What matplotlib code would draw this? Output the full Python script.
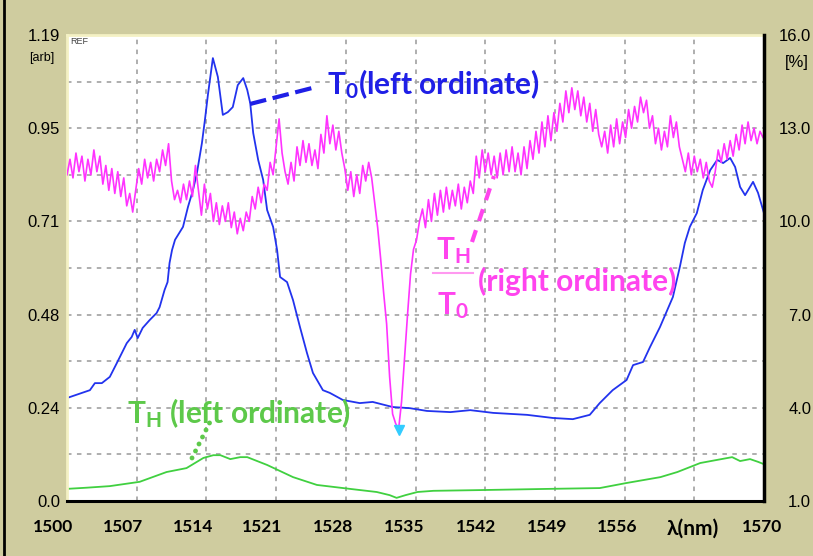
import numpy as np
import matplotlib
matplotlib.use('Agg')
import matplotlib.pyplot as plt
from matplotlib.lines import Line2D
from matplotlib.transforms import ScaledTranslation

plt.rcParams['mathtext.fontset'] = 'custom'
plt.rcParams['mathtext.rm'] = 'Lato'
plt.rcParams['mathtext.bf'] = 'Lato:bold'

# T0 spectrum (left ordinate, arb)
t0_nm = [1500.0, 1502.3, 1502.8, 1503.5, 1504.3, 1505.0, 1506.0, 1506.5, 1506.8, 1507.1,
         1507.6, 1508.3, 1509.0, 1509.3, 1509.8, 1510.1, 1510.3, 1510.55, 1510.85, 1511.65,
         1512.15, 1512.65, 1513.05, 1513.55, 1513.85, 1514.15, 1514.65, 1515.15, 1515.65, 1516.15,
         1516.65, 1517.15, 1517.7, 1518.1, 1518.4, 1518.7, 1519.2, 1519.7, 1520.1, 1520.7,
         1521.1, 1521.4, 1522.1, 1522.7, 1523.4, 1524.1, 1524.7, 1525.7, 1526.4, 1527.7,
         1529.4, 1530.7, 1532.7, 1534.45, 1536.15, 1538.5, 1540.5, 1542.8, 1546.2, 1548.8,
         1550.8, 1552.5, 1553.5, 1554.8, 1556.2, 1556.85, 1557.85, 1558.55, 1559.55, 1560.85,
         1561.55, 1562.05, 1562.55, 1563.25, 1563.85, 1564.6, 1565.3, 1565.9, 1566.6, 1567.1,
         1567.6, 1568.1, 1568.9, 1569.4, 1570.0]
t0_val = [0.263, 0.283, 0.301, 0.301, 0.317, 0.352, 0.403, 0.419, 0.437, 0.416,
          0.442, 0.462, 0.480, 0.495, 0.539, 0.559, 0.608, 0.641, 0.667, 0.700,
          0.751, 0.794, 0.838, 0.914, 0.973, 1.037, 1.131, 1.083, 0.986, 0.993,
          1.006, 1.062, 1.080, 1.050, 1.016, 0.940, 0.871, 0.820, 0.743, 0.700,
          0.641, 0.572, 0.559, 0.513, 0.444, 0.378, 0.327, 0.283, 0.276, 0.258,
          0.250, 0.253, 0.240, 0.237, 0.230, 0.227, 0.232, 0.225, 0.220, 0.212,
          0.209, 0.220, 0.250, 0.283, 0.309, 0.347, 0.355, 0.393, 0.444, 0.521,
          0.598, 0.659, 0.700, 0.735, 0.794, 0.845, 0.871, 0.863, 0.876, 0.853,
          0.802, 0.781, 0.815, 0.787, 0.735]

# TH spectrum (left ordinate, arb)
th_nm = [1500.0, 1502.0, 1504.3, 1507.3, 1510.0, 1512.0, 1513.7, 1514.7, 1515.4, 1516.4,
         1517.4, 1518.1, 1519.1, 1520.1, 1522.7, 1525.1, 1528.4, 1531.1, 1532.4, 1533.1,
         1534.0, 1535.2, 1536.8, 1541.8, 1548.5, 1553.5, 1556.2, 1559.6, 1561.3, 1563.6,
         1565.3, 1566.8, 1567.6, 1568.6, 1569.4, 1570.0]
th_val = [0.031, 0.034, 0.038, 0.049, 0.074, 0.084, 0.110, 0.117, 0.117, 0.107,
          0.112, 0.112, 0.102, 0.092, 0.061, 0.041, 0.031, 0.023, 0.015, 0.008,
          0.015, 0.023, 0.026, 0.028, 0.031, 0.033, 0.046, 0.061, 0.074, 0.097,
          0.105, 0.112, 0.102, 0.107, 0.100, 0.094]

# TH/T0 ratio (right ordinate, %), one sample every 0.3 nm from 1500 nm
ratio_start, ratio_step = 1500.0, 0.3
ratio_pct = [11.5, 12.0, 11.4, 12.2, 11.6, 12.1, 11.3, 12.0, 11.5, 12.3, 11.6, 12.1,
             11.2, 11.8, 11.0, 11.7, 10.9, 11.6, 10.8, 11.4,
             10.5, 10.9, 10.3, 11.0,
             11.7, 11.2, 12.0, 11.4, 11.9, 11.3, 12.0, 11.6, 12.3, 11.8, 12.5,
             11.3, 10.7, 11.0,
             10.6, 11.2, 10.7, 11.3, 10.8, 11.8, 11.0,
             10.2, 11.2, 10.4, 10.9, 10.0, 10.6, 9.9, 10.5, 10.0, 10.6, 9.8, 10.3, 9.6, 10.1, 9.7,
             10.3, 10.0, 10.8, 10.4, 11.1, 10.6, 11.2,
             11.0, 11.9, 11.5, 12.4, 13.3, 12.2, 11.6, 11.2,
             11.9, 11.3, 12.4, 11.8, 12.6, 11.9, 12.5, 11.8, 12.3, 11.7,
             12.8, 12.2, 13.4, 12.5, 13.1, 12.3, 12.9,
             12.2, 11.7,
             11.0, 11.6, 10.8, 11.5, 10.9, 11.8,
             11.3, 11.9, 11.4,
             10.6, 9.8, 8.8, 7.7, 6.7, 5.0, 3.8, 3.5, 3.3, 4.2, 5.6, 7.0, 8.3, 9.1, 9.4, 10.0,
             10.4, 9.8, 10.7, 10.0, 10.9, 10.2, 11.0, 10.3, 11.1, 10.4, 11.0, 10.5, 11.2, 10.4, 11.1, 10.6, 11.3,
             10.9, 12.1, 11.4, 12.3, 11.6, 12.2, 11.5, 12.1, 11.4, 12.2, 11.5, 12.3, 11.6, 12.4, 11.6, 12.2,
             11.5, 12.4, 11.7, 12.6, 12.0, 12.9, 12.2,
             13.2, 12.4, 13.4, 12.6, 13.5, 12.9, 13.8,
             13.2, 14.2, 13.5, 14.3, 13.6, 14.2, 13.4, 14.0, 13.2, 13.8,
             12.9, 13.6, 12.8,
             12.4, 12.9, 12.2,
             13.1, 12.4, 13.3, 12.5, 13.2,
             12.7, 13.6, 13.0, 13.7, 13.2, 14.0, 13.5, 13.9, 13.0,
             13.4, 12.5, 13.0, 12.3, 12.9, 12.4, 13.4, 12.7, 13.2, 12.4,
             12.0, 11.6, 12.2, 11.5, 12.1, 11.6,
             12.0, 11.4, 11.9, 11.3, 11.1,
             11.6, 12.3, 11.9, 12.5, 12.0, 12.6, 12.1,
             12.8, 12.3, 13.1, 12.5, 13.2, 12.6, 13.0, 12.5, 12.9, 12.7]

x_ticks = [1500, 1507, 1514, 1521, 1528, 1535, 1542, 1549, 1556, 1563, 1570]
x_labels = ['1500', '1507', '1514', '1521', '1528', '1535', '1542', '1549', '1556', 'λ(nm)', '1570']
left_ticks = [0.0, 0.238, 0.476, 0.714, 0.952, 1.19]
left_labels = ['0.0', '0.24', '0.48', '0.71', '0.95', '1.19']
right_ticks = [1, 4, 7, 10, 13, 16]
right_labels = ['1.0', '4.0', '7.0', '10.0', '13.0', '16.0']

BG = '#CFCC9F'
BLUE = '#2233EE'
MAG = '#FF33FF'
GREEN = '#40D040'
W, H = 813, 556
ANN = 21.5  # annotation font size


def fx(px):
    return px / W


def fy(py):
    return 1 - py / H


fig = plt.figure(figsize=(W / 100, H / 100), dpi=100, facecolor=BG)
ax = fig.add_axes([67 / W, 1 - 501 / H, 697 / W, 466 / H])
ax.set_facecolor('white')
ax.set_xlim(1500, 1570)
ax.set_ylim(0, 1.19)

ax.plot(th_nm, th_val, color=GREEN, lw=1.3)
ax.plot(t0_nm, t0_val, color=BLUE, lw=1.3)

ax.set_xticks(x_ticks)
ax.set_xticklabels(x_labels, fontfamily='Lato', fontweight='bold', fontsize=12.5)
ax.set_yticks(left_ticks)
ax.set_yticks(np.arange(0.119, 1.19, 0.238), minor=True)
ax.set_yticklabels(left_labels, fontfamily='Liberation Sans', fontsize=12)
ax.tick_params(which='both', length=0)
ax.tick_params(axis='y', pad=5)
ax.tick_params(axis='x', pad=13)
ax.set_axisbelow(True)
ax.grid(True, which='both', color='#A8A8A8', linestyle=(0, (2.5, 3)), lw=1.3)

ax.spines['bottom'].set_color('black')
ax.spines['bottom'].set_linewidth(2.2)
for s in ['left', 'top']:
    ax.spines[s].set_color('#F4F1C4')
    ax.spines[s].set_linewidth(2)
ax.spines['right'].set_visible(False)

# nudge x labels the way the instrument prints them
label_shift_px = [-14, -14, -13, -14, -13, -11, -9, -8, -7, -1, -2]
for lab, dx in zip(ax.get_xticklabels(), label_shift_px):
    lab.set_transform(lab.get_transform() + ScaledTranslation(dx / 100, 0, fig.dpi_scale_trans))
    if lab.get_text().startswith('λ'):
        lab.set_fontsize(15)

ax2 = ax.twinx()
ax2.set_ylim(1, 16)
ratio_nm = ratio_start + ratio_step * np.arange(len(ratio_pct))
ax2.plot(ratio_nm, ratio_pct, color=MAG, lw=1.2)
imin = int(np.argmin(ratio_pct))
ax2.plot(ratio_nm[imin], ratio_pct[imin], marker='v', color='#33CCFF', ms=7, ls='none')
ax2.set_yticks(right_ticks)
ax2.set_yticklabels(right_labels, fontfamily='Liberation Sans', fontsize=12, ha='right')
ax2.tick_params(length=0, pad=34)
for s in ['left', 'top', 'bottom']:
    ax2.spines[s].set_visible(False)
ax2.spines['right'].set_color('black')
ax2.spines['right'].set_linewidth(2.5)

# unit labels and REF tag
fig.text(fx(42), fy(58), '[arb]', fontsize=9, ha='center', va='center', family='Liberation Sans')
fig.text(fx(797), fy(62), '[%]', fontsize=12, ha='center', va='center', family='Liberation Sans')
fig.text(fx(70), fy(44), 'REF', fontsize=6.5, color='#444444', family='Liberation Sans')

# annotations
fig.text(fx(327), fy(94), r'$\mathbf{T_0}$(left ordinate)', color='#1F1FE6', fontsize=ANN,
         fontweight='bold', family='Lato', va='baseline')
fig.add_artist(Line2D([fx(250), fx(316)], [fy(104), fy(87)], color='#1F1FE6', lw=3,
                      dashes=(4, 1.6)))

fig.text(fx(127), fy(423), r'$\mathbf{T_H}$ (left ordinate)', color='#5DC94A', fontsize=ANN,
         fontweight='bold', family='Lato', va='baseline')
fig.add_artist(Line2D([fx(192), fx(210)], [fy(458), fy(422)], color='#5DC94A', lw=3.5,
                      dashes=(0.01, 1.6), dash_capstyle='round'))

fig.text(fx(436), fy(259), r'$\mathbf{T_H}$', color='#FF44EE', fontsize=ANN,
         fontweight='bold', family='Lato', va='baseline')
fig.add_artist(Line2D([fx(433), fx(473)], [fy(273), fy(273)], color='#FF99F0', lw=1.5))
fig.text(fx(437), fy(314), r'$\mathbf{T_0}$', color='#FF44EE', fontsize=ANN,
         fontweight='bold', family='Lato', va='baseline')
fig.text(fx(478), fy(291), '(right ordinate)', color='#FF44EE', fontsize=ANN,
         fontweight='bold', family='Lato', va='baseline')
fig.add_artist(Line2D([fx(472), fx(494)], [fy(242), fy(176)], color='#FF44EE', lw=3,
                      dashes=(3, 2.3)))

fig.add_artist(Line2D([fx(4), fx(4)], [0, 1], color='black', lw=2))

fig.savefig('out.png', dpi=100, facecolor=BG)
